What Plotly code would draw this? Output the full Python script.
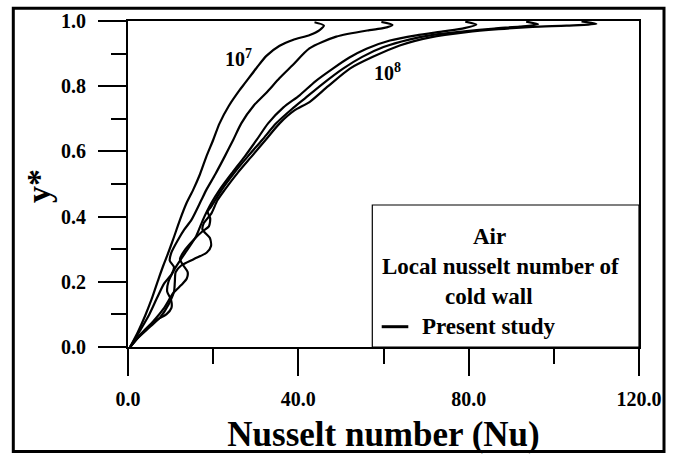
import plotly.graph_objects as go

# Local Nusselt number along the cold wall (Nu vs y*), air, five Rayleigh numbers
ra_labels = ["1e7", "2.5e7", "5e7", "7.5e7", "1e8"]

nu_ra1 = [0.5, 2.3, 4.0, 5.5, 7.2, 8.3, 9.2, 10.6, 12.2, 13.7, 15.3, 16.9, 18.4, 20.0, 21.5,
          23.7, 26.2, 27.5, 30.3, 32.5, 35.6, 38.7, 42.7, 45.0, 46.0, 43.8]
ys_ra1 = [0.0, 0.045, 0.095, 0.145, 0.21, 0.25, 0.28, 0.33, 0.39, 0.44, 0.482, 0.53, 0.584, 0.635, 0.686,
          0.74, 0.788, 0.81, 0.858, 0.893, 0.924, 0.942, 0.957, 0.972, 0.986, 0.996]

nu_ra2 = [0.5, 2.8, 5.0, 6.8, 8.5, 10.3, 10.8, 9.8, 10.2, 11.8, 13.2, 14.9, 17.2, 18.4, 20.5, 22.7,
          24.7, 26.6, 29.5, 32.5, 35.6, 38.7, 42.6, 48.9, 56.7, 59.9, 62.1, 59.5]
ys_ra2 = [0.0, 0.05, 0.1, 0.15, 0.195, 0.225, 0.245, 0.265, 0.29, 0.33, 0.36, 0.39, 0.45, 0.482, 0.53, 0.584,
          0.635, 0.686, 0.74, 0.78, 0.825, 0.865, 0.916, 0.952, 0.972, 0.978, 0.988, 0.997]

nu_ra3 = [0.5, 3.5, 6.7, 9.0, 10.2, 10.1, 9.2, 9.5, 11.0, 13.5, 16.0, 17.6, 19.5, 21.5, 24.5, 27.4,
          30.2, 32.9, 36.5, 40.3, 44.0, 48.1, 52.0, 56.0, 61.5, 67.7, 74.0, 79.0, 81.8, 79.2]
ys_ra3 = [0.0, 0.045, 0.083, 0.1, 0.12, 0.145, 0.17, 0.2, 0.24, 0.29, 0.34, 0.39, 0.44, 0.482, 0.535, 0.584,
          0.635, 0.686, 0.735, 0.772, 0.815, 0.854, 0.888, 0.915, 0.94, 0.956, 0.968, 0.978, 0.989, 0.998]

nu_ra4 = [0.5, 3.0, 6.0, 8.5, 10.6, 12.5, 13.8, 14.0, 13.0, 12.2, 13.5, 15.5, 17.5, 19.0, 19.3, 18.7,
          19.5, 22.0, 25.0, 28.1, 31.5, 34.8, 38.5, 41.5, 45.5, 50.5, 55.0, 60.0, 66.0, 72.0, 79.0,
          86.0, 92.0, 96.3, 93.5]
ys_ra4 = [0.0, 0.04, 0.08, 0.12, 0.165, 0.19, 0.21, 0.23, 0.25, 0.27, 0.3, 0.33, 0.355, 0.37, 0.395, 0.415,
          0.43, 0.482, 0.535, 0.584, 0.635, 0.686, 0.73, 0.762, 0.805, 0.854, 0.89, 0.92, 0.943, 0.958, 0.968,
          0.977, 0.983, 0.99, 0.998]

nu_ra5 = [0.5, 2.5, 5.0, 7.5, 9.5, 10.8, 11.0, 11.2, 12.5, 15.5, 18.5, 19.5, 19.2, 17.5, 17.8, 19.6,
          21.0, 22.7, 25.8, 29.0, 32.3, 35.6, 39.0, 42.7, 47.0, 52.1, 57.5, 63.8, 71.0, 79.5, 87.0,
          95.0, 103.0, 110.0, 106.5]
ys_ra5 = [0.0, 0.03, 0.06, 0.09, 0.13, 0.17, 0.2, 0.23, 0.25, 0.27, 0.29, 0.31, 0.335, 0.36, 0.38, 0.41,
          0.45, 0.482, 0.535, 0.584, 0.635, 0.686, 0.725, 0.752, 0.8, 0.854, 0.89, 0.925, 0.95, 0.966, 0.975,
          0.982, 0.986, 0.991, 0.999]

x_tickvals = [0, 40, 80, 120]
x_ticktext = ["0.0", "40.0", "80.0", "120.0"]
y_tickvals = [0.0, 0.2, 0.4, 0.6, 0.8, 1.0]
y_ticktext = ["0.0", "0.2", "0.4", "0.6", "0.8", "1.0"]

legend_lines = ["Air", "Local nusselt number of", "cold wall", "Present study"]

FONT = "Liberation Serif, Times New Roman, serif"
W_PX, H_PX = 679, 457
L, R, T, B = 128, 40, 21, 110
PW, PH = W_PX - L - R, H_PX - T - B


def px(xp):
    return (xp - L) / PW


def py(yp):
    return (T + PH - yp) / PH


fig = go.Figure()
for nu, ys, name in [(nu_ra1, ys_ra1, ra_labels[0]), (nu_ra2, ys_ra2, ra_labels[1]),
                     (nu_ra3, ys_ra3, ra_labels[2]), (nu_ra4, ys_ra4, ra_labels[3]),
                     (nu_ra5, ys_ra5, ra_labels[4])]:
    fig.add_trace(go.Scatter(x=nu, y=ys, mode="lines", name=name, showlegend=False,
                             line=dict(color="black", width=2.2, shape="spline", smoothing=0.7),
                             cliponaxis=False))

fig.update_layout(
    width=W_PX, height=H_PX,
    margin=dict(l=L, r=R, t=T, b=B, pad=0, autoexpand=False),
    paper_bgcolor="white", plot_bgcolor="white",
    font=dict(family=FONT, color="black", size=20, weight="bold"),
    xaxis=dict(range=[0, 120], showgrid=False, zeroline=False, automargin=False,
               showline=True, linecolor="black", linewidth=2, mirror=True,
               ticks="outside", ticklen=27, tickwidth=2, tickcolor="black",
               tickvals=x_tickvals, ticktext=x_ticktext, ticklabelstandoff=6,
               tickfont=dict(size=20, family=FONT, weight="bold"),
               minor=dict(tickvals=[20, 60, 100], ticks="outside", ticklen=15,
                          tickwidth=2, tickcolor="black"),
               title=dict(text="Nusselt number (Nu)", standoff=12,
                          font=dict(size=35, family=FONT, weight="bold"))),
    yaxis=dict(range=[0, 1], showgrid=False, zeroline=False, automargin=False,
               showline=True, linecolor="black", linewidth=2, mirror=True,
               ticks="outside", ticklen=28, tickwidth=2, tickcolor="black",
               tickvals=y_tickvals, ticktext=y_ticktext, ticklabelstandoff=8,
               tickfont=dict(size=20, family=FONT, weight="bold"),
               minor=dict(tickvals=[0.1, 0.3, 0.5, 0.7, 0.9], ticks="outside", ticklen=15,
                          tickwidth=2, tickcolor="black")),
)

# y-axis title
fig.add_annotation(xref="paper", yref="paper", x=px(38), y=py(186),
                   xanchor="center", yanchor="middle", showarrow=False, textangle=-90,
                   text="y*", font=dict(size=34, family=FONT, weight="bold"))

# outer frame around the whole figure
fig.add_shape(type="rect", xref="paper", yref="paper",
              x0=px(13.3), x1=px(664), y0=py(451.5), y1=py(8.3),
              line=dict(color="black", width=3), layer="above")

# legend box
fig.add_shape(type="rect", xref="paper", yref="paper",
              x0=px(372.3), x1=1.0, y0=0.0, y1=py(205),
              line=dict(color="black", width=1.2), fillcolor="white", layer="above")

legend_pos = [(471, 237), (380, 266), (443, 296), (420, 326)]
for text, (xp, yp) in zip(legend_lines, legend_pos):
    fig.add_annotation(xref="paper", yref="paper", x=px(xp), y=py(yp),
                       xanchor="left", yanchor="middle", showarrow=False, text=text,
                       font=dict(size=23, family=FONT, weight="bold"))
fig.add_shape(type="line", xref="paper", yref="paper",
              x0=px(381.7), x1=px(408.3), y0=py(326.7), y1=py(326.7),
              line=dict(color="black", width=3), layer="above")

# Rayleigh number labels on the first and last curves
fig.add_annotation(xref="paper", yref="paper", x=px(223), y=py(58),
                   xanchor="left", yanchor="middle", showarrow=False,
                   text="10<sup>7</sup>", font=dict(size=20, family=FONT, weight="bold"))
fig.add_annotation(xref="paper", yref="paper", x=px(372), y=py(72),
                   xanchor="left", yanchor="middle", showarrow=False,
                   text="10<sup>8</sup>", font=dict(size=20, family=FONT, weight="bold"))

fig.write_html("out.html")
